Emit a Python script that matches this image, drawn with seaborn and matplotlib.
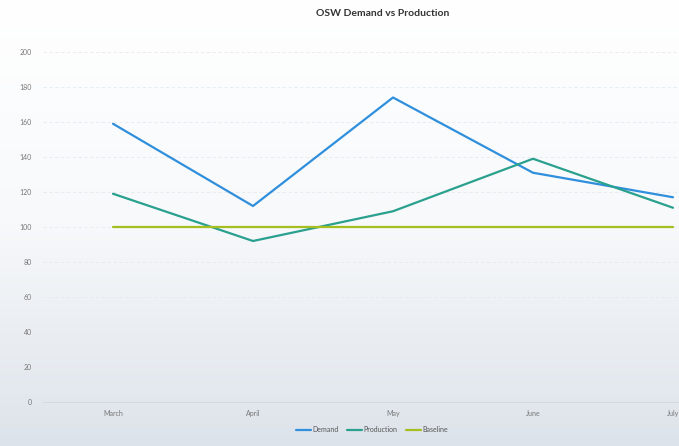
import numpy as np
import pandas as pd
import matplotlib
matplotlib.use("Agg")
import matplotlib.pyplot as plt
import seaborn as sns

# data
months = ["March", "April", "May", "June", "July"]
demand = [159, 112, 174, 131, 117]
production = [119, 92, 109, 139, 111]
baseline = [100, 100, 100, 100, 100]

df = pd.DataFrame({
    "Month": months * 3,
    "Value": demand + production + baseline,
    "Series": ["Demand"] * 5 + ["Production"] * 5 + ["Baseline"] * 5,
})

palette = {"Demand": "#2f8fdc", "Production": "#2aa08f", "Baseline": "#a6bf1e"}

sns.set_theme(style="white")
plt.rcParams['font.family'] = ['Lato', 'DejaVu Sans']

fig = plt.figure(figsize=(6.79, 4.46), dpi=100)

# soft white-to-grey background
bg = fig.add_axes([0, 0, 1, 1], zorder=-10)
grad = np.linspace(0, 1, 256).reshape(-1, 1)
bg.imshow(grad, aspect="auto", cmap=matplotlib.colors.LinearSegmentedColormap.from_list(
    "bg", ["#ffffff", "#f7f9fb", "#dde3ea"]), extent=[0, 1, 0, 1], origin="upper")
bg.axis("off")

ax = fig.add_axes([43 / 679, 44 / 446, 700 / 679, 350 / 446])
ax.patch.set_alpha(0)

sns.lineplot(data=df, x="Month", y="Value", hue="Series", palette=palette,
             linewidth=1.6, sort=False, ax=ax, legend=False)

ax.set_xlim(-0.5, 4.5)
ax.set_ylim(0, 200)
ax.set_yticks(range(0, 201, 20))
ax.set_xticks(range(5))
ax.set_xticklabels(months)
ax.tick_params(axis="both", labelsize=5, colors="#777777", length=0)
ax.tick_params(axis="x", pad=6)
ax.tick_params(axis="y", pad=8)
ax.set_xlabel("")
ax.set_ylabel("")
ax.grid(axis="y", color="#e6e9ee", linewidth=0.6, linestyle=(0, (4, 3)))
for s in ["top", "right", "left"]:
    ax.spines[s].set_visible(False)
ax.spines["bottom"].set_color("#d5d9de")
ax.spines["bottom"].set_linewidth(0.7)

fig.text(383 / 679, 1 - 14 / 446, "OSW Demand vs Production", ha="center", va="center",
         fontsize=7.5, fontweight="bold", color="#333333")

handles = [plt.Line2D([], [], color=palette[k], linewidth=1.6) for k in palette]
fig.legend(handles, list(palette.keys()), loc="center", bbox_to_anchor=(372 / 679, 1 - 430 / 446),
           ncol=3, frameon=False, fontsize=5, handlelength=2.2, handletextpad=0.2,
           columnspacing=1.2, labelcolor="#555555")

fig.savefig("out.png", dpi=100)
